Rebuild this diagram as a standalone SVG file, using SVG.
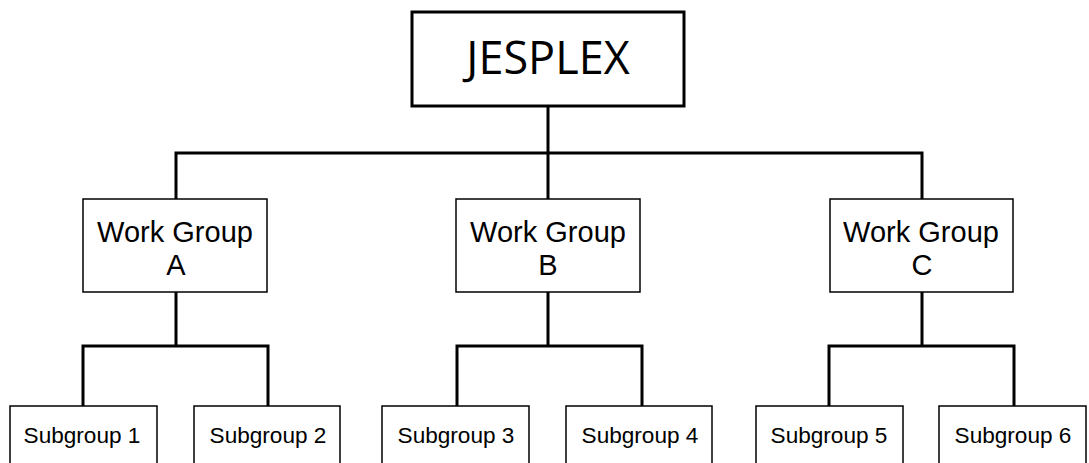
<svg xmlns="http://www.w3.org/2000/svg" width="1089" height="463" viewBox="0 0 1089 463">
  <style>
    .box { fill: #fff; stroke: #000; stroke-width: 1.5; }
    .top { fill: #fff; stroke: #000; stroke-width: 3; }
    .conn { fill: none; stroke: #000; stroke-width: 3; stroke-linejoin: miter; stroke-linecap: square; }
    .wg { font-family: "Liberation Sans", Arial, sans-serif; font-size: 29px; text-anchor: middle; fill: #000; }
    .sg { font-family: "Liberation Sans", Arial, sans-serif; font-size: 22.6px; text-anchor: middle; fill: #000; }
    .title { font-family: "Open Sans", "Noto Sans", sans-serif; font-size: 45px; text-anchor: middle; fill: #000; }
  </style>
  <rect width="1089" height="463" fill="#fff"/>
  <g id="connectors">
    <path class="conn" d="M548 106 V153 M176 199 V153 H922 V199 M548 153 V199"/>
    <path class="conn" d="M176 292 V346 M83 406 V346 H268 V406"/>
    <path class="conn" d="M548 292 V346 M457 406 V346 H642 V406"/>
    <path class="conn" d="M922 292 V346 M829 406 V346 H1014 V406"/>
  </g>
  <g id="jesplex">
    <rect class="top" x="412" y="12" width="272" height="94"/>
    <text class="title" x="548" y="74">JESPLEX</text>
  </g>
  <g id="wg-a">
    <rect class="box" x="83" y="199" width="184" height="93"/>
    <text class="wg" x="175" y="242">Work Group</text>
    <text class="wg" x="176" y="275">A</text>
  </g>
  <g id="wg-b">
    <rect class="box" x="456" y="199" width="184" height="93"/>
    <text class="wg" x="548" y="242">Work Group</text>
    <text class="wg" x="548" y="275">B</text>
  </g>
  <g id="wg-c">
    <rect class="box" x="830" y="199" width="183" height="93"/>
    <text class="wg" x="921" y="242">Work Group</text>
    <text class="wg" x="922" y="275">C</text>
  </g>
  <g id="sg-1">
    <rect class="box" x="10" y="406" width="147" height="70"/>
    <text class="sg" x="82" y="443">Subgroup 1</text>
  </g>
  <g id="sg-2">
    <rect class="box" x="194" y="406" width="146" height="70"/>
    <text class="sg" x="268" y="443">Subgroup 2</text>
  </g>
  <g id="sg-3">
    <rect class="box" x="382" y="406" width="147" height="70"/>
    <text class="sg" x="456" y="443">Subgroup 3</text>
  </g>
  <g id="sg-4">
    <rect class="box" x="566" y="406" width="146" height="70"/>
    <text class="sg" x="640" y="443">Subgroup 4</text>
  </g>
  <g id="sg-5">
    <rect class="box" x="756" y="406" width="147" height="70"/>
    <text class="sg" x="829" y="443">Subgroup 5</text>
  </g>
  <g id="sg-6">
    <rect class="box" x="939" y="406" width="147" height="70"/>
    <text class="sg" x="1013" y="443">Subgroup 6</text>
  </g>
</svg>
